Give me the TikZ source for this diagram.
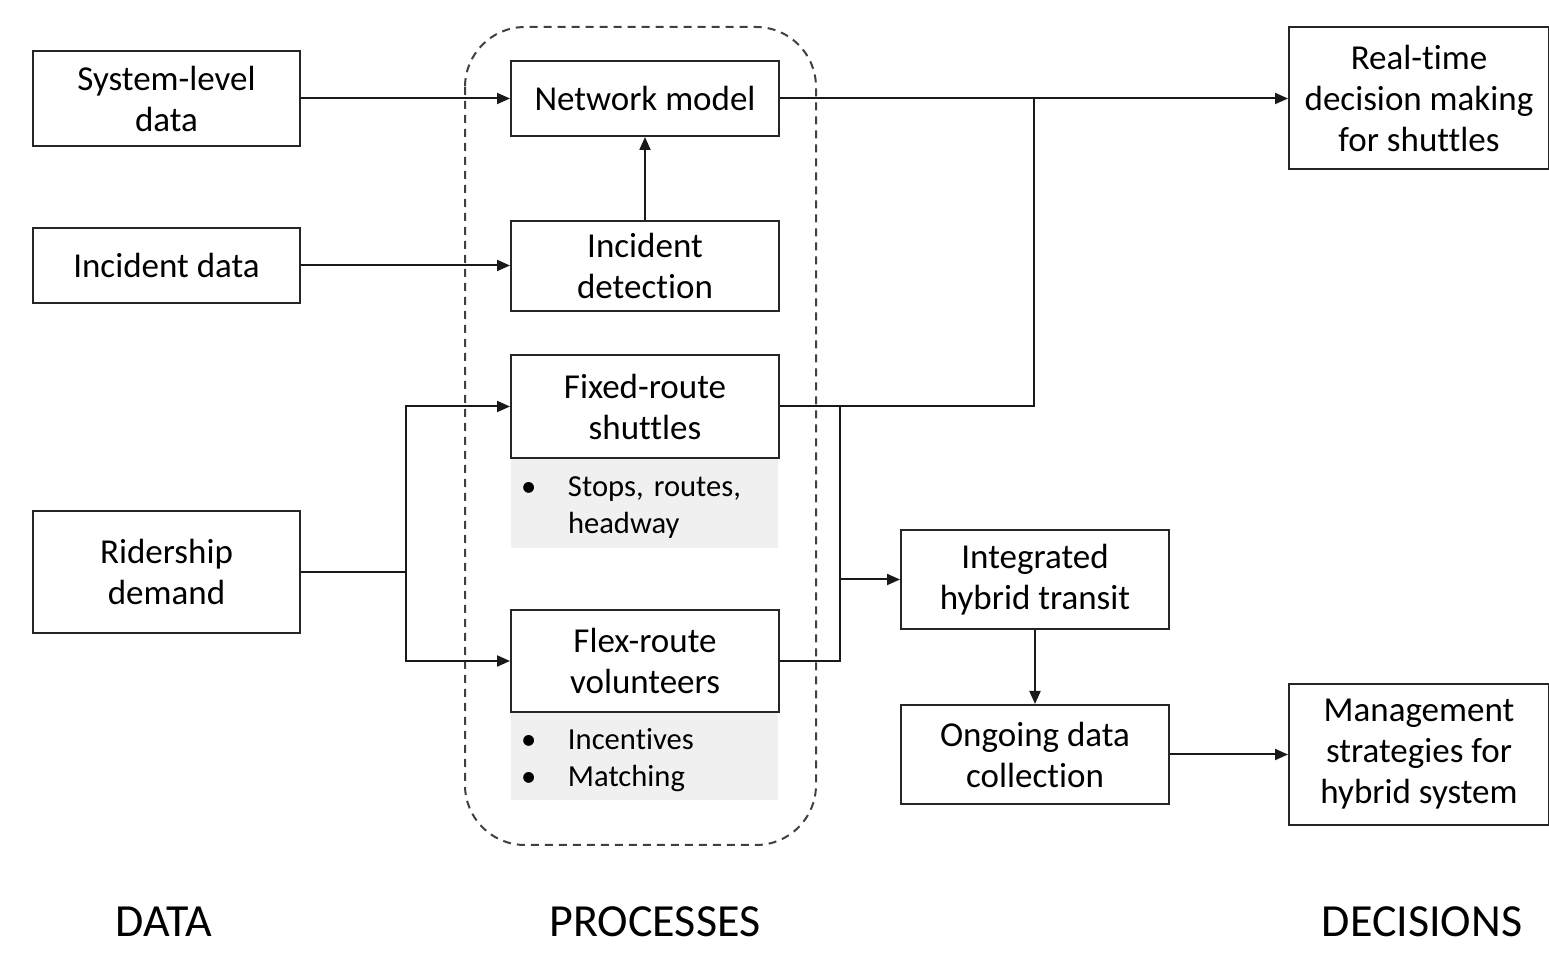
\documentclass[tikz,border=0pt]{standalone}
\usepackage{fontspec}
\setmainfont[Ligatures=NoCommon]{Carlito}
\usetikzlibrary{arrows.meta,positioning}
\begin{document}
\frenchspacing
\begin{tikzpicture}[x=0.5pt,y=-0.5pt,
  box/.style={draw=black!85,line width=1pt,fill=white,minimum width=134pt,align=center,inner sep=2pt,font=\fontsize{17.5}{20.5}\selectfont},
  graybox/.style={fill=black!6,minimum width=133.5pt,text width=123.5pt,align=left,inner xsep=5pt,inner ysep=0pt,font=\fontsize{15.3}{18.5}\selectfont},
  conn/.style={draw=black!90,line width=1pt},
  arr/.style={conn,-{Triangle[length=6.5pt,width=5.5pt]}},
  lab/.style={font=\fontsize{23}{27}\selectfont}]
\useasboundingbox (0,0) rectangle (1549,956);
% dashed container
\draw[black!75,line width=1pt,dash pattern=on 4pt off 3pt,rounded corners=30pt] (465,27) rectangle (816,845);
% grey detail panels
\node[graybox,text height=19.5pt,text depth=25.5pt] (fixg) at (644.5,503) {\begin{tabular}[t]{@{}p{23.5pt}@{}l@{}}\textbullet & Stops, routes,\\ & headway\end{tabular}};
\node[graybox,text height=19pt,text depth=25pt] (flexg) at (644.5,756) {\begin{tabular}[t]{@{}p{23.5pt}@{}l@{}}\textbullet & Incentives\\ \textbullet & Matching\end{tabular}};
% data
\node[box,minimum width=133.5pt,minimum height=47.5pt] (sys) at (166.5,98.5) {System-level\\data};
\node[box,minimum width=133.5pt,minimum height=37.5pt] (inc) at (166.5,265.5) {Incident data};
\node[box,minimum width=133.5pt,minimum height=61pt] (rid) at (166.5,572) {Ridership\\demand};
% processes
\node[box,minimum height=37.5pt] (net) at (645,98.5) {Network model};
\node[box,minimum height=45pt] (det) at (645,266) {Incident\\detection};
\node[box,minimum height=51.5pt] (fix) at (645,406.5) {Fixed-route\\shuttles};
\node[box,minimum height=51pt] (flex) at (645,661) {Flex-route\\volunteers};
\node[box,minimum height=49.5pt] (integ) at (1035,579.5) {Integrated\\hybrid transit};
\node[box,minimum height=49.5pt] (ong) at (1035,754.5) {Ongoing data\\collection};
% decisions
\node[box,minimum width=130pt,minimum height=71pt] (rt) at (1419,98) {Real-time\\decision making\\for shuttles};
\node[box,minimum width=130pt,minimum height=70.5pt] (mg) at (1419,754.5) {Management\\strategies for\\hybrid system};
% labels
\node[lab] (ldata) at (164,922) {DATA};
\node[lab] (lproc) at (655,922) {PROCESSES};
\node[lab] (ldec) at (1422,922) {DECISIONS};
% junctions
\coordinate (jr) at (406,572);
\coordinate (jn) at (1034,98.5);
\coordinate (jm) at (840,579.5);
% connectors
\draw[arr] (sys.east) -- (net.west);
\draw[arr] (inc.east) -- (det.west |- inc.east);
\draw[arr] (det.north) -- (net.south);
\draw[arr] (net.east) -- (rt.west |- net.east);
\draw[conn] (fix.east) -| (jn);
\draw[conn] (rid.east) -- (jr);
\draw[arr] (jr) |- (fix.west);
\draw[arr] (jr) |- (flex.west);
\draw[conn] (fix.east) -| (jm);
\draw[conn] (flex.east) -| (jm);
\draw[arr] (jm) -- (integ.west);
\draw[arr] (integ.south) -- (ong.north);
\draw[arr] (ong.east) -- (mg.west);
\end{tikzpicture}
\end{document}
